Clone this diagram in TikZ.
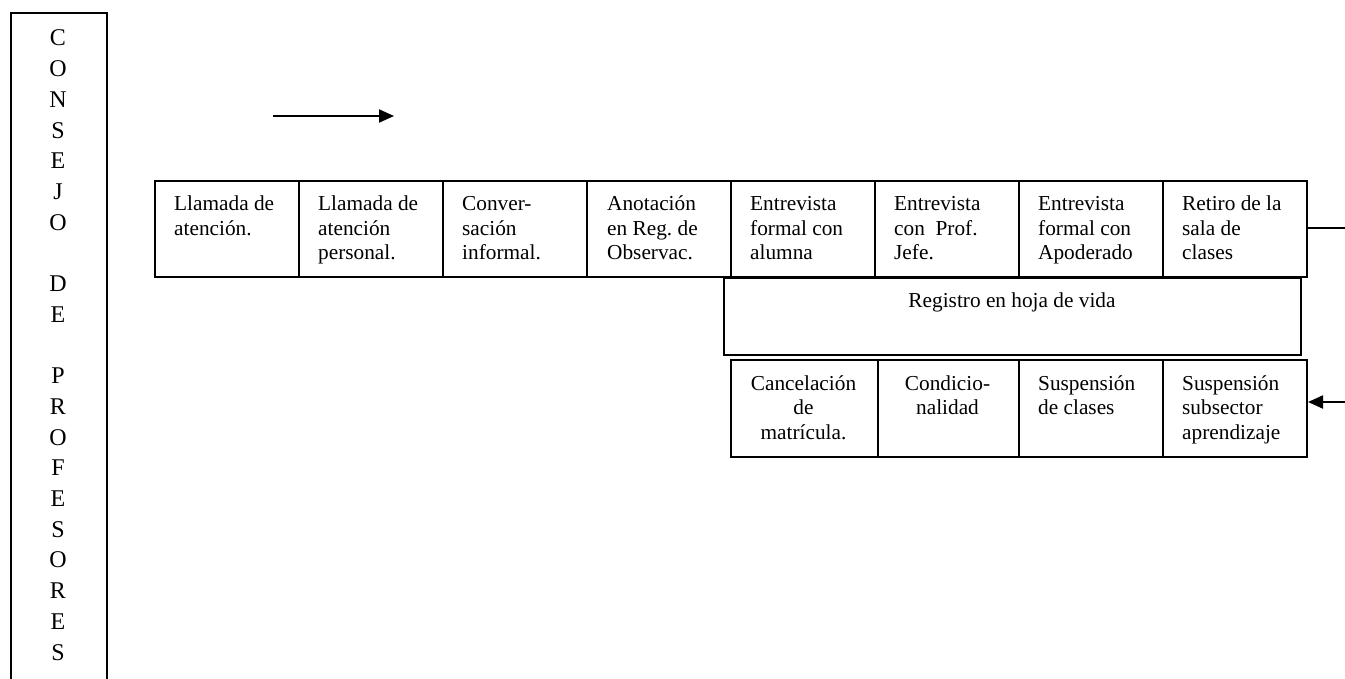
\documentclass[tikz,border=0pt]{standalone}
\usepackage{fontspec}
\setmainfont{Liberation Serif}
\usetikzlibrary{arrows.meta}
\frenchspacing
\begin{document}
\begin{tikzpicture}[x=1pt,y=-1pt,
  cell/.style={draw,line width=2pt,minimum width=144pt,minimum height=96pt,inner sep=0pt,anchor=north west},
  txt/.style={font=\fontsize{21.3}{24.5}\selectfont,inner sep=0pt,anchor=base west,align=left},
  ctxt/.style={font=\fontsize{21.3}{24.5}\selectfont,inner sep=0pt,anchor=base,align=center},
  letter/.style={font=\fontsize{24}{30}\selectfont,inner sep=0pt,anchor=base},
  conn/.style={line width=2pt},
  arr/.style={line width=2pt,-{Triangle[length=15pt,width=13pt]}}]
\useasboundingbox (0,0) rectangle (1345,679);
% left vertical box
\node[draw,line width=2pt,anchor=north west,minimum width=96pt,minimum height=720pt,inner sep=0pt] (consejo) at (10,12) {};
\foreach \c [count=\i from 0] in {C,O,N,S,E,J,O,{},D,E,{},P,R,O,F,E,S,O,R,E,S}
  \node[letter] (l\i) at (58,{46+30.7*\i}) {\c};
% top arrow
\coordinate (a1) at (273,116);
\coordinate (a2) at (394,116);
\draw[arr] (a1) -- (a2);
% top row
\node[cell] (c1) at (154,180) {};
\node[cell] (c2) at (298,180) {};
\node[cell] (c3) at (442,180) {};
\node[cell] (c4) at (586,180) {};
\node[cell] (c5) at (730,180) {};
\node[cell] (c6) at (874,180) {};
\node[cell] (c7) at (1018,180) {};
\node[cell] (c8) at (1162,180) {};
% (base anchor = baseline of the last line)
\node[txt] (t1) at (174,235.5) {Llamada de\\atención.};
\node[txt] (t2) at (318,260) {Llamada de\\atención\\personal.};
\node[txt] (t3) at (462,260) {Conver-\\sación\\informal.};
\node[txt] (t4) at (607,260) {Anotación\\en Reg. de\\Observac.};
\node[txt] (t5) at (750,260) {Entrevista\\formal con\\alumna};
\node[txt] (t6) at (894,260) {Entrevista\\con\ \ Prof.\\Jefe.};
\node[txt] (t7) at (1038,260) {Entrevista\\formal con\\Apoderado};
\node[txt] (t8) at (1182,260) {Retiro de la\\sala de\\clases};
% registro
\node[draw,line width=2pt,anchor=north west,minimum width=577pt,minimum height=77pt,inner sep=0pt] (reg) at (723,277) {};
\node[ctxt] (regt) at (1012,308) {Registro en hoja de vida};
% bottom row
\node[cell,minimum width=147pt,minimum height=97pt] (b1) at (730,359) {};
\node[cell,minimum width=141pt,minimum height=97pt] (b2) at (877,359) {};
\node[cell,minimum height=97pt] (b3) at (1018,359) {};
\node[cell,minimum height=97pt] (b4) at (1162,359) {};
\node[ctxt] (bt1) at (803.5,439) {Cancelación\\de\\matrícula.};
\node[ctxt] (bt2) at (947.5,414.5) {Condicio-\\nalidad};
\node[txt] (bt3) at (1038,414.5) {Suspensión\\de clases};
\node[txt] (bt4) at (1182,439) {Suspensión\\subsector\\aprendizaje};
% right connectors
\coordinate (r1) at (1345,228);
\coordinate (r2) at (1345,402);
\draw[conn] (c8.east |- r1) -- (r1);
\draw[arr] (r2) -- (b4.east |- r2);
\end{tikzpicture}
\end{document}
